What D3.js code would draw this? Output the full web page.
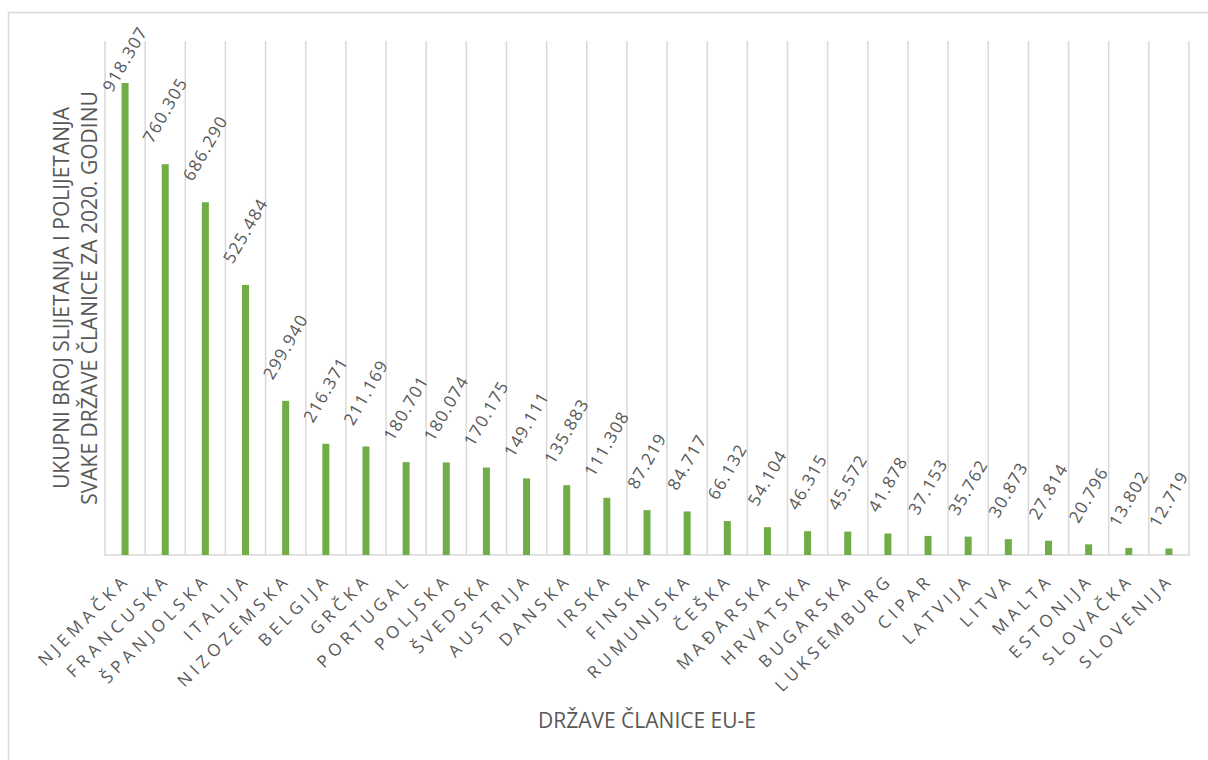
<!DOCTYPE html>
<html>
<head>
<meta charset="utf-8">
<script src="https://cdn.jsdelivr.net/npm/d3@7"></script>
<style>
  body { margin: 0; background: #fff; }
  text { font-family: "Open Sans", "Noto Sans", sans-serif; fill: #595959; }
</style>
</head>
<body>
<svg id="canvas" width="1208" height="760"></svg>
<script>
// data
var countries = ["NJEMAČKA","FRANCUSKA","ŠPANJOLSKA","ITALIJA","NIZOZEMSKA","BELGIJA","GRČKA","PORTUGAL","POLJSKA","ŠVEDSKA","AUSTRIJA","DANSKA","IRSKA","FINSKA","RUMUNJSKA","ČEŠKA","MAĐARSKA","HRVATSKA","BUGARSKA","LUKSEMBURG","CIPAR","LATVIJA","LITVA","MALTA","ESTONIJA","SLOVAČKA","SLOVENIJA"];
var flights = [918307,760305,686290,525484,299940,216371,211169,180701,180074,170175,149111,135883,111308,87219,84717,66132,54104,46315,45572,41878,37153,35762,30873,27814,20796,13802,12719];
var yDomain = [0, 1000000];
var yTitle = ["UKUPNI BROJ SLIJETANJA I POLIJETANJA", "SVAKE DRŽAVE ČLANICE ZA 2020. GODINU"];
var xTitle = "DRŽAVE ČLANICE EU-E";

var canvas = d3.select("#canvas");
var green = "#70ad47";
var grid = "#d9d9d9";

var plot_l = 105, plot_r = 1189, plot_t = 41, plot_b = 555;
var bar_w = 7;

// chart border
canvas.append("rect")
    .attr("x", 8.5).attr("y", 12.5)
    .attr("width", 1300).attr("height", 900)
    .style("fill", "none").style("stroke", grid).style("stroke-width", 1.5);

var x = d3.scaleBand().domain(countries).range([plot_l, plot_r]).padding(0);
var y = d3.scaleLinear().domain(yDomain).range([plot_b, plot_t]);

// vertical gridlines at category boundaries
var bounds = countries.map(function(c){ return x(c); }).concat([plot_r]);
canvas.append("g").selectAll("line")
    .data(bounds)
    .enter().append("line")
    .attr("x1", function(d){ return d; }).attr("x2", function(d){ return d; })
    .attr("y1", plot_t).attr("y2", plot_b)
    .style("stroke", grid).style("stroke-width", 1.5);

// baseline
canvas.append("line")
    .attr("x1", plot_l - 1).attr("x2", plot_r + 1)
    .attr("y1", plot_b).attr("y2", plot_b)
    .style("stroke", grid).style("stroke-width", 1.5);

// bars
canvas.append("g").selectAll("rect")
    .data(countries)
    .enter().append("rect")
    .attr("x", function(d){ return x(d) + x.bandwidth()/2 - bar_w/2; })
    .attr("y", function(d, i){ return y(flights[i]); })
    .attr("width", bar_w)
    .attr("height", function(d, i){ return plot_b - y(flights[i]); })
    .style("fill", green);

// value labels, rotated
var fmt = function(v){ return d3.format(",")(v).replace(/,/g, "."); };
var ang = 60 * Math.PI / 180;
var labels = canvas.append("g").selectAll("text")
    .data(countries)
    .enter().append("text")
    .attr("text-anchor", "middle")
    .attr("dy", "0.35em")
    .style("font-size", "17px")
    .style("letter-spacing", "1.3px")
    .text(function(d, i){ return fmt(flights[i]); });

labels.each(function(d, i){
    var L = this.getComputedTextLength();
    var h = 12;
    var bh = L * Math.sin(ang) + h * Math.cos(ang);
    var cx = x(d) + x.bandwidth()/2;
    var cy = y(flights[i]) - 20 - bh/2;
    if (cy - bh/2 < 25) cy = 25 + bh/2;
    d3.select(this).attr("transform", "translate(" + cx + "," + cy + ") rotate(-60)");
});

// category labels
canvas.append("g").selectAll("text")
    .data(countries)
    .enter().append("text")
    .attr("text-anchor", "end")
    .style("font-size", "17px")
    .style("letter-spacing", "4.6px")
    .attr("transform", function(d){
        var cx = x(d) + x.bandwidth()/2 + 6;
        return "translate(" + cx + "," + 581 + ") rotate(-45)";
    })
    .text(function(d){ return d; });

// axis titles
canvas.append("text")
    .attr("x", 647).attr("y", 728)
    .attr("text-anchor", "middle")
    .style("font-size", "21px")
    .text(xTitle);

canvas.append("g")
    .attr("transform", "translate(69,298) rotate(-90)")
    .selectAll("text")
    .data(yTitle)
    .enter().append("text")
    .attr("x", 0)
    .attr("y", function(d, i){ return i * 28; })
    .attr("text-anchor", "middle")
    .style("font-size", "21px")
    .text(function(d){ return d; });
</script>
</body>
</html>
